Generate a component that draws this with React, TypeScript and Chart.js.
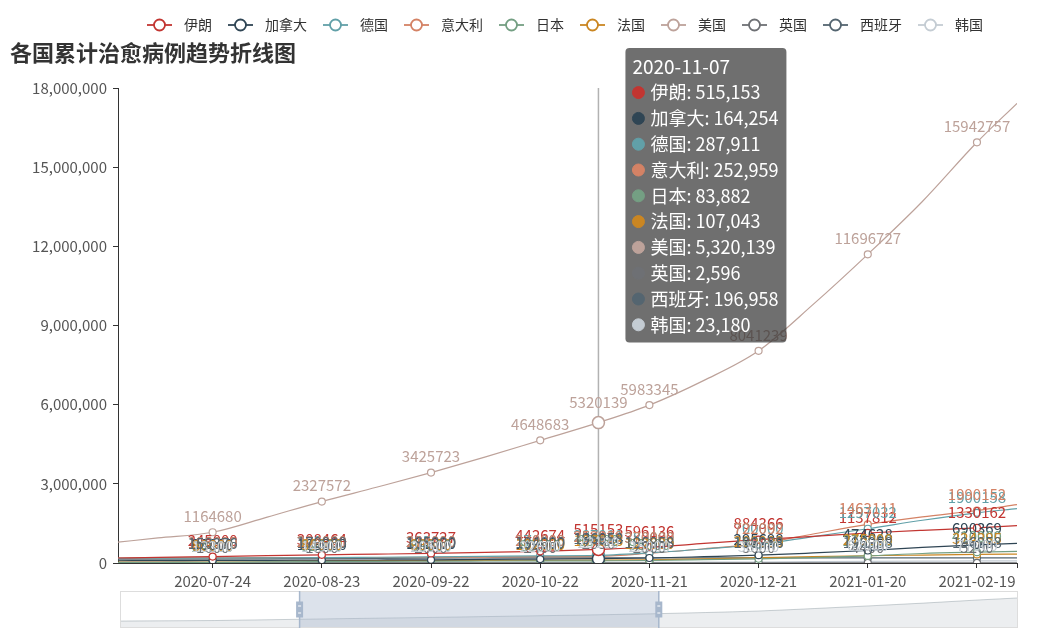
import React, { useEffect, useRef } from 'react';
import { Chart, registerables, Tooltip } from 'chart.js';

Chart.register(...registerables);

const FONT = '"Noto Sans CJK SC", "Noto Sans", sans-serif';
Chart.defaults.font.family = FONT;

const TITLE = '各国累计治愈病例趋势折线图';

const dates = [
  '2020-06-28', '2020-07-09', '2020-07-24', '2020-08-08', '2020-08-23', '2020-09-07',
  '2020-09-22', '2020-10-07', '2020-10-22', '2020-11-07', '2020-11-21', '2020-12-06',
  '2020-12-21', '2021-01-05', '2021-01-20', '2021-02-04', '2021-02-19', '2021-03-02',
];
const xTickLabels = [
  '2020-07-24', '2020-08-23', '2020-09-22', '2020-10-22',
  '2020-11-21', '2020-12-21', '2021-01-20', '2021-02-19',
];
const hoverDate = '2020-11-07';
const yMax = 18000000;
const yStep = 3000000;
const zoomStart = 20;
const zoomEnd = 60;

const seriesNames = ['伊朗', '加拿大', '德国', '意大利', '日本', '法国', '美国', '英国', '西班牙', '韩国'];
const seriesColors = ['#c23531', '#2f4554', '#61a0a8', '#d48265', '#749f83', '#ca8622', '#bda29a', '#6e7074', '#546570', '#c4ccd3'];

const iran = [190000, 210000, 245000, 278000, 308464, 335000, 363727, 400000, 442674, 515153, 596136, 740000, 884366, 1010000, 1137812, 1240000, 1330162, 1420000];
const canada = [85000, 90000, 95000, 102000, 108000, 114000, 122000, 134000, 150000, 164254, 190000, 240000, 295698, 380000, 474628, 590000, 690369, 745000];
const germany = [178000, 183000, 188000, 194000, 200000, 217000, 235000, 252000, 270000, 287911, 380000, 530000, 700000, 1000000, 1297032, 1620000, 1900158, 2060000];
const italy = [190000, 192000, 196000, 200000, 204000, 208000, 214000, 225000, 240000, 252959, 370000, 540000, 722092, 1100000, 1463111, 1750000, 1990152, 2210000];
const japan = [16500, 19000, 24000, 40000, 52000, 62000, 69000, 75000, 80000, 83882, 95000, 125000, 160000, 205000, 270000, 360000, 410000, 440000];
const france = [75000, 77000, 80000, 83000, 86000, 89000, 93000, 98000, 102000, 107043, 122000, 160000, 200000, 240000, 275000, 300000, 324385, 340000];
const usa = [790000, 950000, 1164680, 1740000, 2327572, 2870000, 3425723, 4020000, 4648683, 5320139, 5983345, 6920000, 8041239, 9800000, 11696727, 13700000, 15942757, 17420000];
const uk = [1400, 1500, 1600, 1700, 1800, 1900, 2000, 2200, 2400, 2596, 2800, 3200, 3600, 4000, 4400, 4800, 5200, 5400];
const spain = [150376, 150376, 150376, 160000, 170000, 178000, 185000, 190000, 194000, 196958, 196958, 196958, 196958, 196958, 196958, 196958, 196958, 196958];
const korea = [11500, 12500, 13300, 13900, 14900, 18000, 20500, 22000, 22600, 23180, 25000, 30000, 38000, 52000, 62000, 70000, 77000, 81000];

const seriesValues = [iran, canada, germany, italy, japan, france, usa, uk, spain, korea];

const dayOf = (s: string) => {
  const [y, m, d] = s.split('-').map(Number);
  const [y0, m0, d0] = dates[0].split('-').map(Number);
  return Math.round((Date.UTC(y, m - 1, d) - Date.UTC(y0, m0 - 1, d0)) / 86400000);
};
const xs = dates.map(dayOf);
const xMax = xs[xs.length - 1];
const tickDays = xTickLabels.map(dayOf);
const labelIdx = new Set(xTickLabels.map((t) => dates.indexOf(t)));
const hoverIdx = dates.indexOf(hoverDate);

(Tooltip.positioners as any).pinnedTop = function (items: any[]) {
  if (!items.length) return false;
  return { x: items[0].element.x + 31, y: this.chart.chartArea.top - 40 };
};

const decorPlugin = {
  id: 'decor',
  beforeDatasetsDraw(chart: any) {
    const active = chart.tooltip ? chart.tooltip.getActiveElements() : [];
    if (active.length) {
      const ctx = chart.ctx;
      const x = active[0].element.x;
      ctx.save();
      ctx.strokeStyle = 'rgba(170,170,170,0.9)';
      ctx.lineWidth = 1.5;
      ctx.beginPath();
      ctx.moveTo(x, chart.chartArea.top);
      ctx.lineTo(x, chart.chartArea.bottom);
      ctx.stroke();
      ctx.restore();
    }
  },
  afterDatasetsDraw(chart: any) {
    const ctx = chart.ctx;
    ctx.save();
    ctx.font = `15px ${FONT}`;
    ctx.textAlign = 'center';
    ctx.textBaseline = 'middle';
    chart.data.datasets.forEach((_ds: any, di: number) => {
      const meta = chart.getDatasetMeta(di);
      ctx.fillStyle = seriesColors[di];
      meta.data.forEach((pt: any, i: number) => {
        if (!labelIdx.has(i) && i !== hoverIdx) return;
        const off = i === hoverIdx ? 20 : 16;
        ctx.fillText(String(seriesValues[di][i]), pt.x, pt.y - off);
      });
    });
    ctx.restore();
  },
  afterDraw(chart: any) {
    const ctx = chart.ctx;
    ctx.save();
    ctx.font = `bold 22px ${FONT}`;
    ctx.fillStyle = '#333';
    ctx.textAlign = 'left';
    ctx.textBaseline = 'middle';
    ctx.fillText(TITLE, 10, 53);

    ctx.font = `14px ${FONT}`;
    let x = 147;
    const y = 25;
    seriesNames.forEach((n, i) => {
      ctx.strokeStyle = seriesColors[i];
      ctx.lineWidth = 1.8;
      ctx.beginPath();
      ctx.moveTo(x, y);
      ctx.lineTo(x + 25, y);
      ctx.stroke();
      ctx.beginPath();
      ctx.arc(x + 12.5, y, 5.5, 0, Math.PI * 2);
      ctx.fillStyle = '#fff';
      ctx.fill();
      ctx.stroke();
      ctx.fillStyle = '#333';
      ctx.fillText(n, x + 25 + 12, y);
      x += 25 + 12 + ctx.measureText(n).width + 16;
    });
    ctx.restore();
  },
};

const sliderPlugin = {
  id: 'sliderDecor',
  afterDraw(chart: any) {
    const ctx = chart.ctx;
    const { left, right, top, bottom } = chart.chartArea;
    const w = right - left;
    const x1 = left + (w * zoomStart) / 100;
    const x2 = left + (w * zoomEnd) / 100;
    ctx.save();
    ctx.fillStyle = 'rgba(167,183,204,0.4)';
    ctx.fillRect(x1, top, x2 - x1, bottom - top);
    ctx.strokeStyle = '#ddd';
    ctx.lineWidth = 1;
    ctx.strokeRect(left + 0.5, top + 0.5, w - 1, bottom - top - 1);
    [x1, x2].forEach((hx) => {
      ctx.strokeStyle = '#a7b7cc';
      ctx.lineWidth = 1.5;
      ctx.beginPath();
      ctx.moveTo(hx, top);
      ctx.lineTo(hx, bottom);
      ctx.stroke();
      const mid = (top + bottom) / 2;
      ctx.fillStyle = '#a7b7cc';
      ctx.fillRect(hx - 3.5, mid - 8, 7, 16);
      ctx.fillStyle = '#fff';
      ctx.fillRect(hx - 1.5, mid - 4, 3, 1);
      ctx.fillRect(hx - 1.5, mid + 3, 3, 1);
    });
    ctx.restore();
  },
};

export default function App() {
  const mainRef = useRef<HTMLCanvasElement | null>(null);
  const sliderRef = useRef<HTMLCanvasElement | null>(null);

  useEffect(() => {
    if (!mainRef.current || !sliderRef.current) return;
    const chart: any = new Chart(mainRef.current, {
      type: 'line',
      data: {
        datasets: seriesValues.map((vals, i) => ({
          label: seriesNames[i],
          data: vals.map((v, j) => ({ x: xs[j], y: v })),
          borderColor: seriesColors[i],
          backgroundColor: seriesColors[i],
          borderWidth: 1.2,
          cubicInterpolationMode: 'monotone',
          fill: false,
          pointRadius: (ctx: any) => (labelIdx.has(ctx.dataIndex) ? 3.5 : 0),
          pointBackgroundColor: '#fff',
          pointBorderColor: seriesColors[i],
          pointBorderWidth: 1.2,
          pointHoverRadius: 6,
          pointHoverBorderWidth: 1.5,
          pointHoverBackgroundColor: '#fff',
          pointHoverBorderColor: seriesColors[i],
        })),
      },
      options: {
        responsive: false,
        animation: false,
        devicePixelRatio: 1,
        events: [],
        layout: { padding: { top: 88, right: 33, left: 0, bottom: 0 } },
        plugins: {
          legend: { display: false },
          title: { display: false },
          tooltip: {
            enabled: true,
            mode: 'index',
            intersect: false,
            position: 'pinnedTop' as any,
            xAlign: 'left',
            yAlign: 'top',
            caretSize: 0,
            caretPadding: 0,
            cornerRadius: 4,
            backgroundColor: 'rgba(50,50,50,0.7)',
            titleColor: '#fff',
            bodyColor: '#fff',
            titleFont: { size: 19, weight: 'normal' },
            bodyFont: { size: 18 },
            titleMarginBottom: 4,
            bodySpacing: 4.2,
            padding: { left: 7, right: 8, top: 7, bottom: 7 },
            displayColors: true,
            usePointStyle: true,
            boxWidth: 12,
            boxHeight: 12,
            boxPadding: 4,
            multiKeyBackground: 'rgba(0,0,0,0)',
            callbacks: {
              title: (items: any[]) => dates[items[0].dataIndex],
              label: (item: any) =>
                `${seriesNames[item.datasetIndex]}: ${seriesValues[item.datasetIndex][item.dataIndex].toLocaleString('en-US')}`,
              labelColor: (item: any) => ({
                borderColor: seriesColors[item.datasetIndex],
                backgroundColor: seriesColors[item.datasetIndex],
                borderWidth: 0,
              }),
              labelPointStyle: () => ({ pointStyle: 'circle', rotation: 0 }),
            },
          },
        },
        scales: {
          x: {
            type: 'linear',
            min: 0,
            max: xMax,
            afterBuildTicks: (s: any) => {
              s.ticks = [...tickDays.map((v) => ({ value: v })), { value: xMax }];
            },
            afterFit: (s: any) => {
              s.height = 76;
            },
            ticks: {
              autoSkip: false,
              maxRotation: 0,
              padding: 4,
              color: '#555',
              font: { size: 15 },
              callback: (v: any) => {
                const i = tickDays.indexOf(v);
                return i >= 0 ? xTickLabels[i] : '';
              },
            },
            grid: { display: true, drawOnChartArea: false, drawTicks: true, tickLength: 5, color: '#333' },
            border: { display: true, color: '#333', width: 1 },
          },
          y: {
            type: 'linear',
            min: 0,
            max: yMax,
            afterFit: (s: any) => {
              s.width = 118;
            },
            ticks: {
              stepSize: yStep,
              padding: 6,
              color: '#555',
              font: { size: 15 },
              callback: (v: any) => Number(v).toLocaleString('en-US'),
            },
            grid: { display: true, drawOnChartArea: false, drawTicks: true, tickLength: 5, color: '#333' },
            border: { display: true, color: '#333', width: 1 },
          },
        },
      },
      plugins: [decorPlugin],
    } as any);

    const els = seriesValues.map((_v, i) => ({ datasetIndex: i, index: hoverIdx }));
    chart.setActiveElements(els);
    chart.tooltip.setActiveElements(els, { x: 0, y: 0 });
    chart.draw();

    const usMin = Math.min(...usa);
    const usMaxV = Math.max(...usa);
    const range = usMaxV - usMin;
    const slider: any = new Chart(sliderRef.current, {
      type: 'line',
      data: {
        datasets: [
          {
            data: usa.map((v, j) => ({ x: xs[j], y: v })),
            borderColor: 'rgba(47,69,84,0.3)',
            borderWidth: 0.8,
            backgroundColor: 'rgba(47,69,84,0.09)',
            fill: 'start',
            pointRadius: 0,
            cubicInterpolationMode: 'monotone',
          },
        ],
      },
      options: {
        responsive: false,
        animation: false,
        devicePixelRatio: 1,
        events: [],
        layout: { padding: 0 },
        plugins: { legend: { display: false }, tooltip: { enabled: false } },
        scales: {
          x: { type: 'linear', display: false, min: 0, max: xMax },
          y: { display: false, min: usMin - range * 0.3, max: usMaxV + range * 0.3 },
        },
      },
      plugins: [sliderPlugin],
    } as any);

    return () => {
      chart.destroy();
      slider.destroy();
    };
  }, []);

  return (
    <div style={{ position: 'absolute', left: 0, top: 0, width: 1050, height: 639, background: '#fff' }}>
      <canvas ref={mainRef} width={1050} height={639} style={{ position: 'absolute', left: 0, top: 0 }} />
      <canvas ref={sliderRef} width={898} height={37} style={{ position: 'absolute', left: 120, top: 591 }} />
    </div>
  );
}
